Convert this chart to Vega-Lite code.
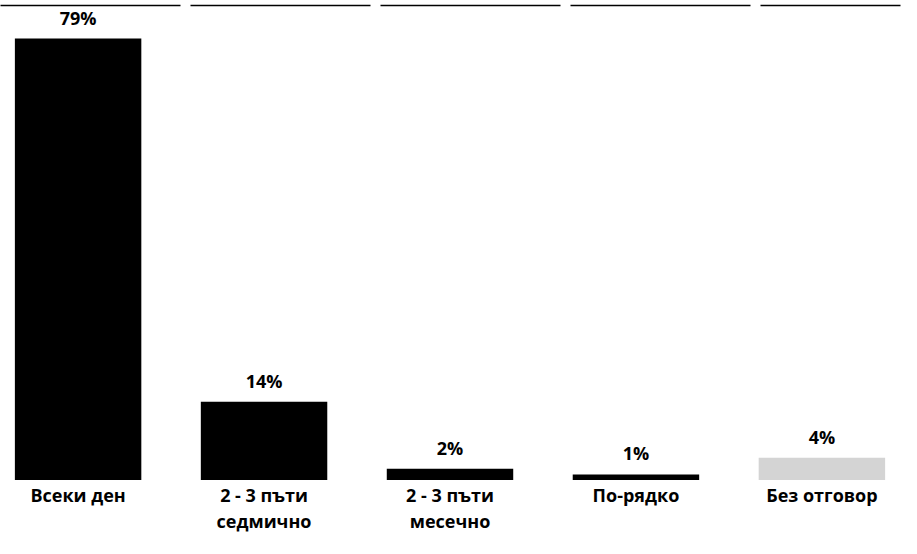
{
  "$schema": "https://vega.github.io/schema/vega-lite/v6.json",
  "width": 900,
  "height": 475,
  "autosize": {"type": "none"},
  "padding": {"left": 0, "top": 5, "right": 17, "bottom": 74},
  "background": "white",
  "view": {"stroke": null},
  "data": {
    "values": [
      {"cat": "Всеки ден", "label": "Всеки ден", "pct": 0.79, "kind": "a"},
      {"cat": "2 - 3 пъти седмично", "label": "2 - 3 пъти|седмично", "pct": 0.14, "kind": "a"},
      {"cat": "2 - 3 пъти месечно", "label": "2 - 3 пъти|месечно", "pct": 0.02, "kind": "a"},
      {"cat": "По-рядко", "label": "По-рядко", "pct": 0.01, "kind": "a"},
      {"cat": "Без отговор", "label": "Без отговор", "pct": 0.04, "kind": "b"}
    ]
  },
  "encoding": {
    "x": {
      "field": "cat",
      "type": "nominal",
      "sort": null,
      "scale": {"paddingInner": 0.32, "paddingOuter": 0.08}
    },
    "y": {
      "field": "pct",
      "type": "quantitative",
      "scale": {"domain": [0, 0.85], "nice": false},
      "axis": null
    }
  },
  "layer": [
    {
      "mark": {"type": "bar"},
      "encoding": {
        "x": {
          "field": "cat",
          "type": "nominal",
          "sort": null,
          "axis": {
            "title": null,
            "orient": "bottom",
            "domain": false,
            "ticks": false,
            "labelAngle": 0,
            "labelExpr": "split(datum.label == '2 - 3 пъти седмично' ? '2 - 3 пъти|седмично' : datum.label == '2 - 3 пъти месечно' ? '2 - 3 пъти|месечно' : datum.label, '|')",
            "labelFont": "Open Sans",
            "labelFontWeight": "bold",
            "labelFontSize": 18,
            "labelColor": "black",
            "labelPadding": 7,
            "labelLineHeight": 26,
            "labelBaseline": "top"
          }
        },
        "color": {
          "field": "kind",
          "type": "nominal",
          "scale": {"domain": ["a", "b"], "range": ["#000000", "#d4d4d4"]},
          "legend": null
        }
      }
    },
    {
      "mark": {
        "type": "text",
        "baseline": "bottom",
        "dy": -10,
        "font": "Open Sans",
        "fontWeight": "bold",
        "fontSize": 18,
        "color": "black"
      },
      "encoding": {
        "x": {
          "field": "cat",
          "type": "nominal",
          "sort": null,
          "axis": {
            "title": null,
            "orient": "top",
            "labels": false,
            "ticks": false,
            "domain": true,
            "domainColor": "black",
            "domainWidth": 1.5,
            "domainDash": [180, 10]
          }
        },
        "text": {"field": "pct", "type": "quantitative", "format": ".0%"}
      }
    }
  ]
}
